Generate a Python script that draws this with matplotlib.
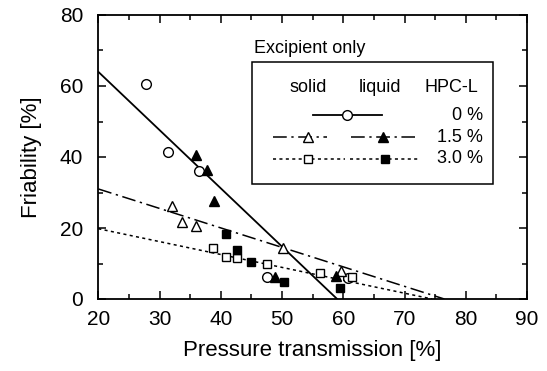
import numpy as np
import matplotlib.pyplot as plt
from matplotlib.ticker import MultipleLocator

plt.rcParams['font.family'] = ['Liberation Sans', 'DejaVu Sans']

# solid excipient, 0 % HPC-L
x_solid_0 = [27.8, 31.3, 36.5, 47.5, 60.8]
y_solid_0 = [60.5, 41.5, 36.0, 6.2, 6.0]
# solid, 1.5 %
x_solid_15 = [32.1, 33.7, 35.9, 50.2, 59.7]
y_solid_15 = [26.3, 21.8, 20.6, 14.5, 7.9]
# liquid, 1.5 %
x_liq_15 = [36.0, 37.7, 38.9, 48.8, 58.8]
y_liq_15 = [40.7, 36.2, 27.7, 6.2, 6.5]
# solid, 3.0 %
x_solid_30 = [38.8, 40.9, 42.6, 47.5, 56.2, 61.5]
y_solid_30 = [14.5, 11.7, 11.5, 10.0, 7.4, 6.3]
# liquid, 3.0 %
x_liq_30 = [40.9, 42.6, 45.0, 50.3, 59.5]
y_liq_30 = [18.3, 13.8, 10.3, 4.8, 3.2]

# regression lines: (intercept at x=20, x where y reaches 0)
fit_0 = (64.0, 59.0)
fit_15 = (31.0, 76.5)
fit_30 = (19.8, 74.5)

fig = plt.figure(figsize=(5.47, 3.71), dpi=100)
ax = fig.add_axes([98.3 / 547, 1 - 299 / 371, 428.7 / 547, 284 / 371])


def fit_line(fit):
    y0, x_end = fit
    xs = np.array([20, x_end])
    return xs, y0 - y0 / (x_end - 20) * (xs - 20)


dashdot = (0, (9, 3, 1.5, 3))
dotted = (0, (2, 2.2))

xs, ys = fit_line(fit_0)
ax.plot(xs, ys, color='k', lw=1.3)
xs, ys = fit_line(fit_15)
ax.plot(xs, ys, color='k', lw=1.1, linestyle=dashdot)
xs, ys = fit_line(fit_30)
ax.plot(xs, ys, color='k', lw=1.1, linestyle=dotted)

ms = 7
ax.plot(x_solid_0, y_solid_0, 'o', mfc='white', mec='k', mew=1.0, ms=ms, ls='none')
ax.plot(x_solid_15, y_solid_15, '^', mfc='white', mec='k', mew=1.0, ms=ms - 0.5, ls='none')
ax.plot(x_liq_15, y_liq_15, '^', mfc='k', mec='k', ms=ms - 0.5, ls='none')
ax.plot(x_solid_30, y_solid_30, 's', mfc='white', mec='k', mew=1.0, ms=ms - 1, ls='none')
ax.plot(x_liq_30, y_liq_30, 's', mfc='k', mec='k', ms=ms - 1, ls='none')

ax.set_xlim(20, 90)
ax.set_ylim(0, 80)
ax.xaxis.set_major_locator(MultipleLocator(10))
ax.xaxis.set_minor_locator(MultipleLocator(5))
ax.yaxis.set_major_locator(MultipleLocator(20))
ax.yaxis.set_minor_locator(MultipleLocator(10))
ax.tick_params(which='both', direction='in', top=True, right=True, width=1.1, labelsize=15)
ax.tick_params(which='major', length=6)
ax.tick_params(which='minor', length=3.5)
ax.tick_params(axis='x', which='major', pad=8)
ax.tick_params(axis='y', which='major', pad=11)
for s in ax.spines.values():
    s.set_linewidth(1.3)

ax.set_xlabel('Pressure transmission [%]', fontsize=16, labelpad=8)
ax.set_ylabel('Friability [%]', fontsize=16, labelpad=13)

# hand-made legend box
fs = 13
tr = ax.transAxes
ax.text(0.364, 0.882, 'Excipient only', transform=tr, fontsize=fs, va='center', ha='left')
box = plt.Rectangle((0.358, 0.405), 0.563, 0.43, transform=tr, fill=False, lw=1.1, ec='k')
ax.add_patch(box)
ax.text(0.490, 0.745, 'solid', transform=tr, fontsize=fs, ha='center', va='center')
ax.text(0.657, 0.745, 'liquid', transform=tr, fontsize=fs, ha='center', va='center')
ax.text(0.824, 0.745, 'HPC-L', transform=tr, fontsize=fs, ha='center', va='center')

ax.plot([0.500, 0.662], [0.647, 0.647], color='k', lw=1.3, transform=tr)
ax.plot([0.581], [0.647], 'o', mfc='white', mec='k', mew=1.0, ms=ms, transform=tr)
ax.text(0.897, 0.647, '0 %', transform=tr, fontsize=fs, ha='right', va='center')

ax.plot([0.407, 0.533], [0.570, 0.570], color='k', lw=1.1, ls=dashdot, transform=tr)
ax.plot([0.488], [0.570], '^', mfc='white', mec='k', mew=1.0, ms=ms - 0.5, transform=tr)
ax.plot([0.589, 0.739], [0.570, 0.570], color='k', lw=1.1, ls=dashdot, transform=tr)
ax.plot([0.665], [0.570], '^', mfc='k', mec='k', ms=ms - 0.5, transform=tr)
ax.text(0.897, 0.570, '1.5 %', transform=tr, fontsize=fs, ha='right', va='center')

ax.plot([0.408, 0.575], [0.494, 0.494], color='k', lw=1.1, ls=dotted, transform=tr)
ax.plot([0.488], [0.494], 's', mfc='white', mec='k', mew=1.0, ms=ms - 1, transform=tr)
ax.plot([0.587, 0.750], [0.494, 0.494], color='k', lw=1.1, ls=dotted, transform=tr)
ax.plot([0.669], [0.494], 's', mfc='k', mec='k', ms=ms - 1, transform=tr)
ax.text(0.897, 0.494, '3.0 %', transform=tr, fontsize=fs, ha='right', va='center')

fig.savefig('out.png', dpi=100)
